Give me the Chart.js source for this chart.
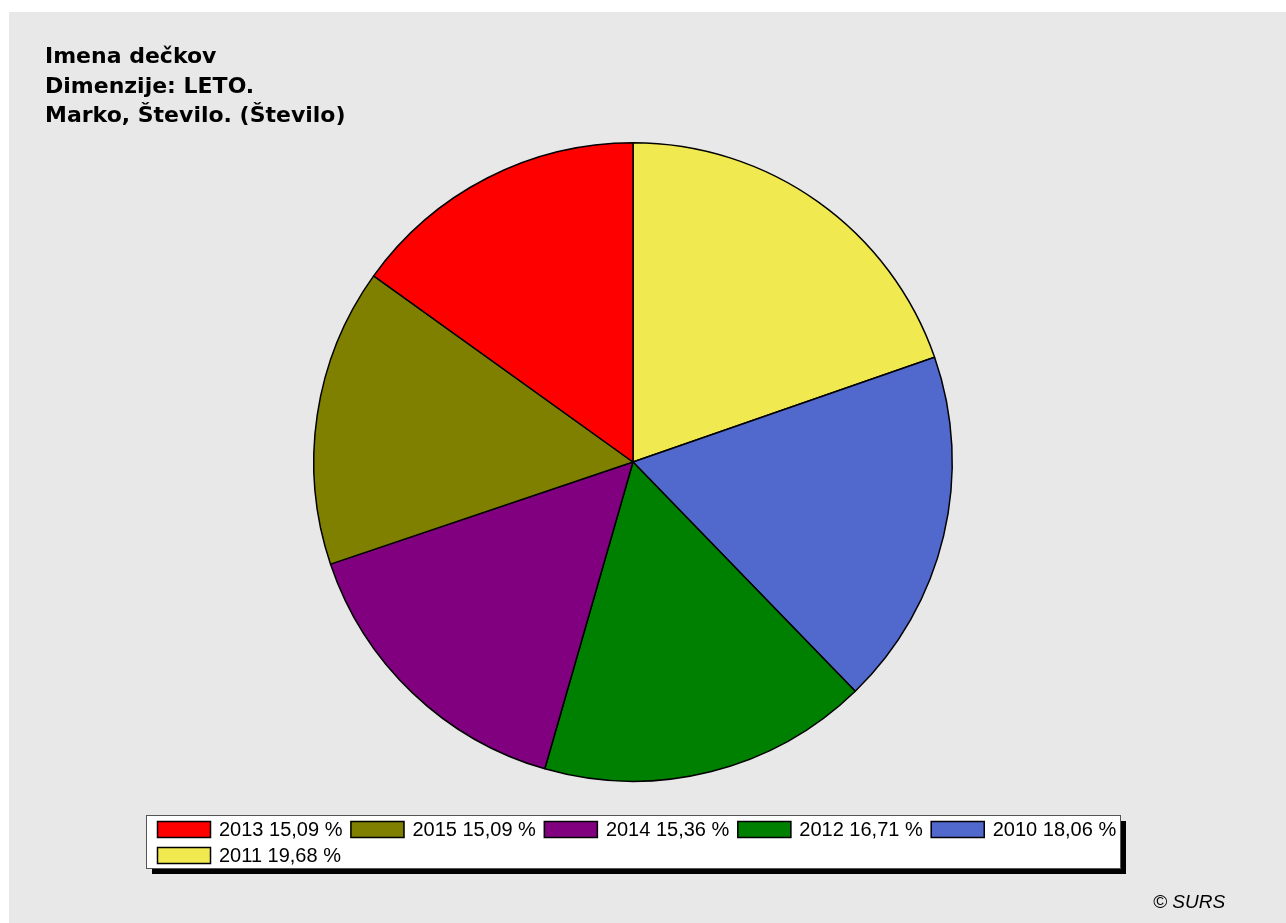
<!DOCTYPE html>
<html>
<head>
<meta charset="utf-8">
<script src="https://cdn.jsdelivr.net/npm/chart.js@4"></script>
<style>
  body { margin: 0; background: #fff; }
  #wrap { position: absolute; left: 9px; top: 12px; width: 1277px; height: 911px; background: #e8e8e8; }
</style>
</head>
<body>
<div id="wrap"><canvas id="pieChart" width="1277" height="911"></canvas></div>
<script>
// slices in drawing order, clockwise from the top
const years = ["2011", "2010", "2012", "2014", "2015", "2013"];
const shares = [19.68, 18.06, 16.71, 15.36, 15.09, 15.09];
const sliceColors = ["#f1e950", "#5168cd", "#008000", "#800080", "#808000", "#ff0000"];
const titleLines = ["Imena dečkov", "Dimenzije: LETO.", "Marko, Število. (Število)"];
const credit = "© SURS";

const fmt = (v) => v.toFixed(2).replace(".", ",") + " %";

// title, boxed legend and credit line
const decorPlugin = {
  id: "decor",
  afterDraw(chart) {
    const c = chart.ctx;
    c.save();
    c.fillStyle = "#000";
    c.textAlign = "left";
    c.textBaseline = "alphabetic";
    c.font = "bold 22px 'DejaVu Sans'";
    const baselines = [51, 81, 110];
    titleLines.forEach((t, i) => c.fillText(t, 36, baselines[i]));

    // legend box with drop shadow
    const box = { x: 137, y: 803, w: 974, h: 53 };
    c.fillStyle = "#000";
    c.fillRect(box.x + 6, box.y + 6, box.w, box.h);
    c.fillStyle = "#fff";
    c.fillRect(box.x, box.y, box.w, box.h);
    c.strokeStyle = "#555";
    c.lineWidth = 1;
    c.strokeRect(box.x + 0.5, box.y + 0.5, box.w, box.h);

    c.font = "20px 'Liberation Sans', Arial";
    c.textBaseline = "middle";
    const order = years.map((y, i) => i).reverse();
    let x = 148, y = 809;
    order.forEach((i) => {
      const label = years[i] + " " + fmt(shares[i]);
      const tw = c.measureText(label).width;
      if (x + 62 + tw > box.x + box.w + 2) {
        x = 148;
        y += 26;
      }
      c.fillStyle = sliceColors[i];
      c.fillRect(x, y, 54, 17);
      c.strokeStyle = "#000";
      c.lineWidth = 1.5;
      c.strokeRect(x + 0.5, y + 0.5, 53, 16);
      c.fillStyle = "#000";
      c.fillText(label, x + 62, y + 9.5);
      x += 62 + tw + 8;
    });

    c.font = "italic 19px 'Liberation Sans', Arial";
    c.textBaseline = "alphabetic";
    c.fillText(credit, 1144, 896);
    c.restore();
  },
};

const ctx = document.getElementById("pieChart").getContext("2d");
new Chart(ctx, {
  type: "pie",
  data: {
    labels: years,
    datasets: [
      {
        data: shares,
        backgroundColor: sliceColors,
        borderColor: "#000",
        borderWidth: 1.5,
      },
    ],
  },
  options: {
    responsive: false,
    animation: false,
    layout: {
      padding: { left: 304, right: 333, top: 130, bottom: 141 },
    },
    plugins: {
      legend: { display: false },
      tooltip: { enabled: false },
    },
  },
  plugins: [decorPlugin],
});
</script>
</body>
</html>
